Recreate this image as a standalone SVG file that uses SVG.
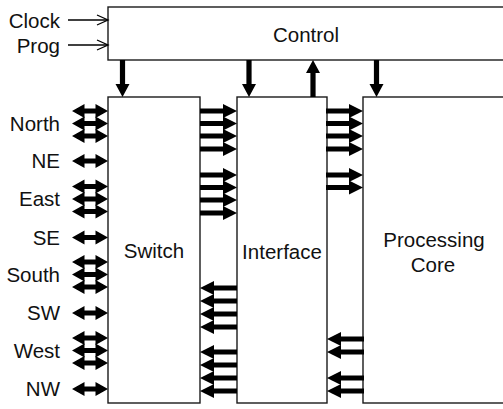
<svg xmlns="http://www.w3.org/2000/svg" xmlns:xlink="http://www.w3.org/1999/xlink" width="503" height="409" viewBox="0 0 503 409">
<style>
.box{fill:#fff;stroke:#1a1a1a;stroke-width:1.4}
.lbl{font-family:"Liberation Sans",Arial,sans-serif;font-size:20.5px;fill:#111}
.mid{text-anchor:middle}
.end{text-anchor:end}
.fat{fill:#000}
.thin{fill:none;stroke:#000;stroke-width:1.3}
</style>
<defs>
<path id="ar" d="M0,-2.6 H23 V-7 L37,0 L23,7 V2.6 H0 Z"/>
<path id="al" d="M37,-2.6 H14 V-7 L0,0 L14,7 V2.6 H37 Z"/>
<path id="bi" d="M0,0 L12.5,-7 V-2.5 H23.5 V-7 L36,0 L23.5,7 V2.5 H12.5 V7 Z"/>
<path id="dn" d="M-2.6,0 V24 H-7 L0,37 L7,24 H2.6 V0 Z"/>
<path id="up" d="M-2.6,37 V13 H-7 L0,0 L7,13 H2.6 V37 Z"/>
</defs>
<g id="control"><rect class="box" x="108" y="7" width="398" height="53"/><text class="lbl mid" x="306" y="41.5">Control</text></g>
<g id="switch"><rect class="box" x="108" y="97" width="92" height="306"/><text class="lbl mid" x="154" y="258">Switch</text></g>
<g id="interface"><rect class="box" x="237" y="97" width="90" height="306"/><text class="lbl mid" x="282" y="259">Interface</text></g>
<g id="core"><rect class="box" x="363" y="97" width="143" height="306"/><text class="lbl mid" x="434" y="246.5">Processing</text><text class="lbl mid" x="433" y="271.5">Core</text></g>
<g id="inputs">
<text class="lbl end" x="60" y="28">Clock</text>
<text class="lbl end" x="60" y="53">Prog</text>
</g>
<g id="ports">
<text class="lbl end" x="60" y="131">North</text>
<text class="lbl end" x="60" y="168">NE</text>
<text class="lbl end" x="60" y="206">East</text>
<text class="lbl end" x="60" y="244.5">SE</text>
<text class="lbl end" x="60" y="282">South</text>
<text class="lbl end" x="60" y="320">SW</text>
<text class="lbl end" x="60" y="357.5">West</text>
<text class="lbl end" x="60" y="396">NW</text>
</g>
<g id="connectors">
<line class="thin" x1="68" y1="20" x2="107" y2="20"/><polyline class="thin" points="97,15 108,20 97,25"/>
<line class="thin" x1="68" y1="45" x2="107" y2="45"/><polyline class="thin" points="97,40 108,45 97,50"/>
<g class="fat">
<use xlink:href="#dn" x="122.5" y="60"/>
<use xlink:href="#dn" x="249" y="60"/>
<use xlink:href="#up" x="313" y="60"/>
<use xlink:href="#dn" x="376.5" y="60"/>
<use xlink:href="#bi" x="72" y="111"/>
<use xlink:href="#bi" x="72" y="123.5"/>
<use xlink:href="#bi" x="72" y="136"/>
<use xlink:href="#bi" x="72" y="161"/>
<use xlink:href="#bi" x="72" y="186.5"/>
<use xlink:href="#bi" x="72" y="199"/>
<use xlink:href="#bi" x="72" y="211.5"/>
<use xlink:href="#bi" x="72" y="237.5"/>
<use xlink:href="#bi" x="72" y="262"/>
<use xlink:href="#bi" x="72" y="274.5"/>
<use xlink:href="#bi" x="72" y="287"/>
<use xlink:href="#bi" x="72" y="313"/>
<use xlink:href="#bi" x="72" y="338"/>
<use xlink:href="#bi" x="72" y="350.5"/>
<use xlink:href="#bi" x="72" y="363"/>
<use xlink:href="#bi" x="72" y="389"/>
<use xlink:href="#ar" x="200" y="111"/>
<use xlink:href="#ar" x="200" y="123.5"/>
<use xlink:href="#ar" x="200" y="136"/>
<use xlink:href="#ar" x="200" y="149"/>
<use xlink:href="#ar" x="200" y="175"/>
<use xlink:href="#ar" x="200" y="187.5"/>
<use xlink:href="#ar" x="200" y="200"/>
<use xlink:href="#ar" x="200" y="213"/>
<use xlink:href="#ar" x="326" y="111"/>
<use xlink:href="#ar" x="326" y="123.5"/>
<use xlink:href="#ar" x="326" y="136"/>
<use xlink:href="#ar" x="326" y="149"/>
<use xlink:href="#ar" x="326" y="175"/>
<use xlink:href="#ar" x="326" y="187.5"/>
<use xlink:href="#al" x="200" y="288"/>
<use xlink:href="#al" x="200" y="301"/>
<use xlink:href="#al" x="200" y="314"/>
<use xlink:href="#al" x="200" y="327"/>
<use xlink:href="#al" x="200" y="352"/>
<use xlink:href="#al" x="200" y="365"/>
<use xlink:href="#al" x="200" y="378"/>
<use xlink:href="#al" x="200" y="391"/>
<use xlink:href="#al" x="327" y="339"/>
<use xlink:href="#al" x="327" y="352"/>
<use xlink:href="#al" x="327" y="378"/>
<use xlink:href="#al" x="327" y="391"/>
</g>
</g>
</svg>
